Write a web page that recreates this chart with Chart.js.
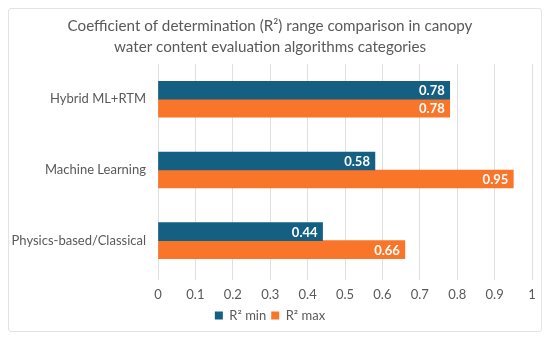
<!DOCTYPE html>
<html>
<head>
<meta charset="utf-8">
<script src="https://cdn.jsdelivr.net/npm/chart.js@4"></script>
<style>
  body { margin: 0; background: #fff; }
  .frame { position: absolute; left: 8px; top: 8px; width: 532px; height: 322px; border: 1px solid #e3e3e3; border-radius: 3px; }
  .wrap { position: absolute; left: 0; top: 0; width: 550px; height: 340px; }
</style>
</head>
<body>
<div class="frame"></div>
<div class="wrap"><canvas id="chart"></canvas></div>
<script>
// Chart data
const categories = ['Hybrid ML+RTM', 'Machine Learning', 'Physics-based/Classical'];
const r2Min = [0.78, 0.58, 0.44];
const r2Max = [0.78, 0.95, 0.66];
const seriesNames = ['R\u00B2 min', 'R\u00B2 max'];
const titleLines = [
  'Coefficient of determination (R\u00B2) range comparison in canopy',
  'water content evaluation algorithms categories'
];

const blue = '#145F82';
const orange = '#F8752A';
const textGrey = '#595959';
const fontFamily = 'Lato, "Noto Sans", sans-serif';

// Simple inline value labels (white, inside the bar end)
const valueLabels = {
  id: 'valueLabels',
  afterDatasetsDraw(chart) {
    const ctx = chart.ctx;
    ctx.save();
    ctx.font = 'bold 13px ' + fontFamily;
    ctx.fillStyle = '#ffffff';
    ctx.textAlign = 'right';
    ctx.textBaseline = 'middle';
    chart.data.datasets.forEach((ds, i) => {
      chart.getDatasetMeta(i).data.forEach((bar, j) => {
        ctx.fillText(ds.data[j].toFixed(2), bar.x - 5, bar.y + 1);
      });
    });
    ctx.restore();
  }
};

new Chart(document.getElementById('chart'), {
  type: 'bar',
  data: {
    labels: categories,
    datasets: [
      { label: seriesNames[0], data: r2Min, backgroundColor: blue, barThickness: 18 },
      { label: seriesNames[1], data: r2Max, backgroundColor: orange, barThickness: 18 }
    ]
  },
  plugins: [valueLabels],
  options: {
    indexAxis: 'y',
    responsive: true,
    maintainAspectRatio: false,
    animation: false,
    layout: { padding: { left: 8, right: 18, top: 12, bottom: 8 } },
    plugins: {
      title: {
        display: true,
        text: titleLines,
        color: textGrey,
        font: { family: fontFamily, size: 15.2, weight: 'normal', lineHeight: 1.38 },
        padding: { top: 4, bottom: 6 }
      },
      legend: {
        position: 'bottom',
        labels: {
          color: textGrey,
          font: { family: fontFamily, size: 13 },
          boxWidth: 8,
          boxHeight: 8,
          padding: 5
        }
      },
      tooltip: { enabled: false }
    },
    scales: {
      x: {
        min: 0,
        max: 1,
        afterFit: (s) => { s.height = 28; },
        ticks: {
          stepSize: 0.1,
          color: textGrey,
          font: { family: fontFamily, size: 13 },
          padding: 7,
          callback: (v) => String(Math.round(v * 10) / 10)
        },
        grid: { color: '#e0e0e0', tickLength: 4 },
        border: { display: false }
      },
      y: {
        afterFit: (s) => { s.width = 150; },
        ticks: { color: textGrey, font: { family: fontFamily, size: 13 }, padding: 12 },
        grid: { display: false, drawTicks: false },
        border: { display: false }
      }
    }
  }
});
</script>
</body>
</html>
